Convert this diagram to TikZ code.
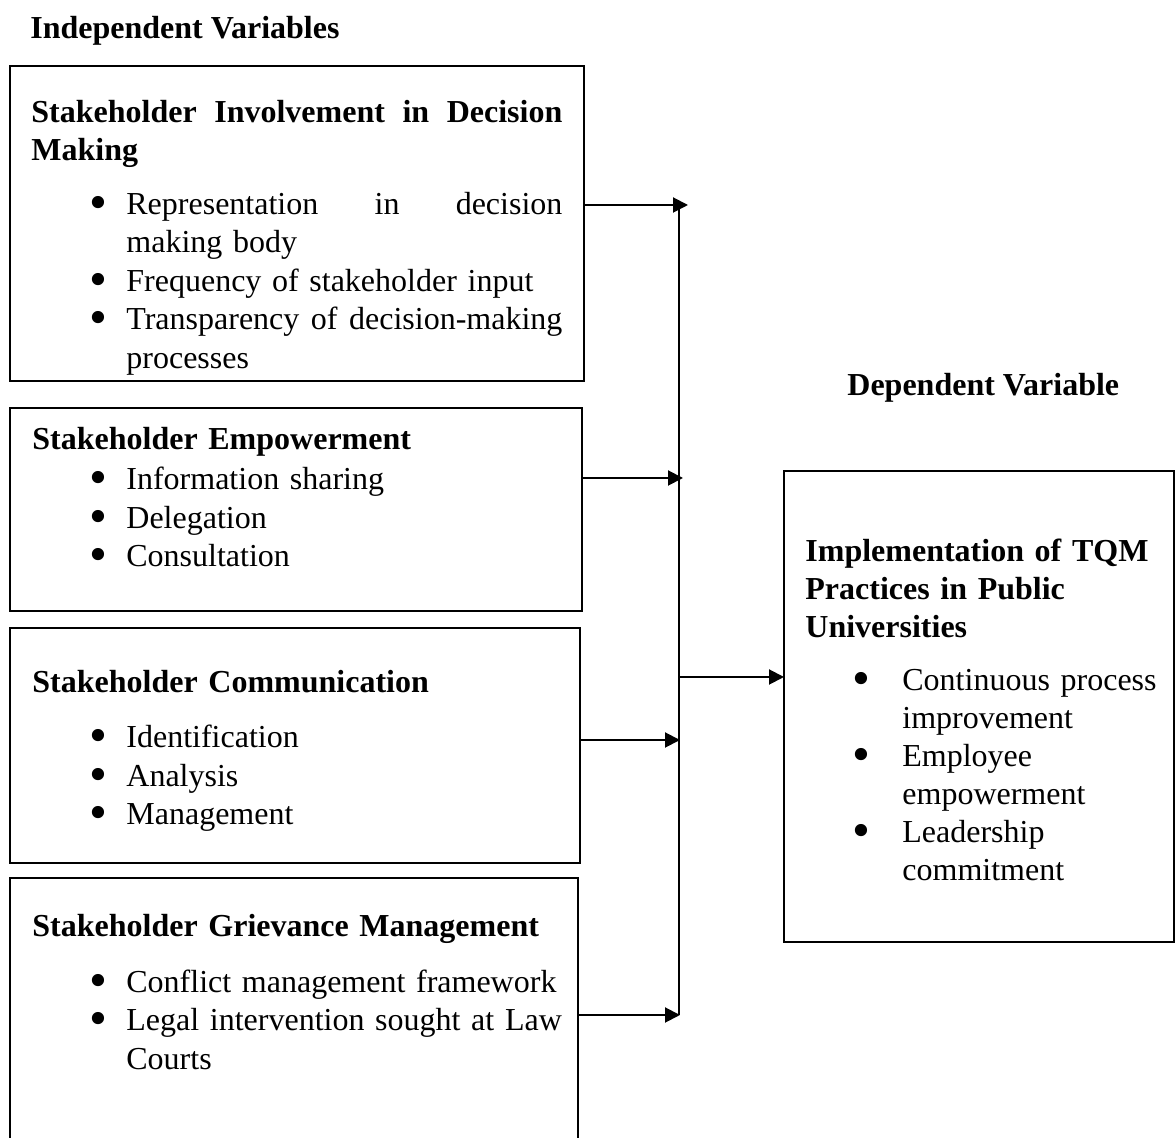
\documentclass[tikz,border=0pt]{standalone}
\usepackage{fontspec}
\setmainfont{Liberation Serif}
\usepackage{graphicx}
\usepackage{tikz}
\usetikzlibrary{positioning, arrows.meta}
\setlength{\parindent}{0pt}
\hyphenpenalty=10000
\newcommand{\bdot}{\smash{\raisebox{-2.4pt}{\scalebox{1.6}{\textbullet}}}}
\newcommand{\bul}[1][9.5pt]{\par\noindent\llap{\bdot\hskip#1}\ignorespaces}
\newcommand{\hs}{\rule{0pt}{12pt}}

\begin{document}
\begin{tikzpicture}[x=0.5pt, y=-0.5pt, >={Triangle[length=7.5pt,width=7.5pt]}]
\tikzstyle{varbox}=[rectangle,draw,line width=1pt,anchor=north west,inner sep=0pt,outer sep=0pt]
\tikzstyle{vartext}=[anchor=north west,inner sep=0pt,align=left,font=\fontsize{16}{19.25}\selectfont]
\tikzstyle{head}=[anchor=north west,inner sep=0pt,font=\fontsize{16}{19.25}\selectfont\bfseries]
\useasboundingbox (0,0) rectangle (1175,1138);
\clip (0,0) rectangle (1175,1138);

\node[head] (ivhead) at (30,14) {\hs Independent Variables};
\node[head] (dvhead) at (847,371) {\hs Dependent Variable};

\node[varbox,minimum width=287pt,minimum height=157.5pt] (iv1) at (10,66) {};
\node[varbox,minimum width=286pt,minimum height=101.5pt] (iv2) at (10,408) {};
\node[varbox,minimum width=285pt,minimum height=117.5pt] (iv3) at (10,628) {};
\node[varbox,minimum width=284pt,minimum height=141pt] (iv4) at (10,878) {};
\node[varbox,minimum width=195pt,minimum height=235.5pt] (dv) at (784,471) {};

\node[vartext,text width=265.5pt] (iv1txt) at (31,98) {\textbf{\hs Stakeholder\hfill Involvement\hfill in\hfill Decision\\Making}\par\leftskip=47.5pt\vspace{7.5pt}
\bul Representation\hfill in\hfill decision\\making body
\bul Frequency of stakeholder input
\bul Transparency\hfill of\hfill decision-making\\processes\par};
\node[vartext,text width=265pt] (iv2txt) at (32,425) {\textbf{\hs Stakeholder Empowerment}\par\leftskip=47pt\vspace{1pt}
\bul Information sharing
\bul Delegation
\bul Consultation\par};
\node[vartext,text width=265pt] (iv3txt) at (32,668) {\textbf{\hs Stakeholder Communication}\par\leftskip=47pt\vspace{8.5pt}
\bul Identification
\bul Analysis
\bul Management\par};
\node[vartext,text width=280pt] (iv4txt) at (32,912) {\textbf{\hs Stakeholder Grievance Management}\par\leftskip=47pt\vspace{8.75pt}
\bul Conflict management framework
\bul Legal intervention sought at Law\\Courts\par};
\node[vartext,text width=192pt,font=\fontsize{16}{19}\selectfont] (dvtxt) at (805,537) {\textbf{\hs Implementation of TQM\\Practices in Public\\Universities}\par\leftskip=48.5pt\vspace{7.5pt}
\bul[16pt] Continuous process\\improvement
\bul[16pt] Employee\\empowerment
\bul[16pt] Leadership\\commitment\par};

\coordinate (s1) at (679,204);
\coordinate (s4) at (679,1015);
\coordinate (hub) at (679,677);
\coordinate (t1) at (688,205);
\coordinate (t2) at (683,478);
\coordinate (t3) at (680,740);
\coordinate (t4) at (680,1015);
\draw[line width=0.8pt] (s1) -- (s4);
\path[->,line width=1pt]
(iv1.east |- t1) edge (t1)
(iv2.east |- t2) edge (t2)
(iv3.east |- t3) edge (t3)
(iv4.east |- t4) edge (t4)
(hub) edge (dv.west |- hub)
;
\end{tikzpicture}
\end{document}
